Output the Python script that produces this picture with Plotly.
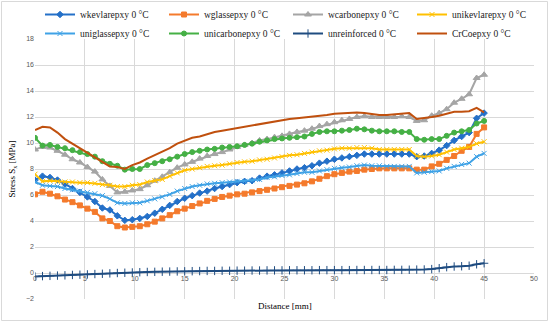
import plotly.graph_objects as go

distance = [0, 0.75, 1.5, 2.25, 3, 3.75, 4.5, 5.25, 6, 6.75, 7.5, 8.25, 9, 9.75, 10.5, 11.25,
            12, 12.75, 13.5, 14.25, 15, 15.75, 16.5, 17.25, 18, 18.75, 19.5, 20.25, 21, 21.75,
            22.5, 23.25, 24, 24.75, 25.5, 26.25, 27, 27.75, 28.5, 29.25, 30, 30.75, 31.5, 32.25,
            33, 33.75, 34.5, 35.25, 36, 36.75, 37.5, 38.25, 39, 39.75, 40.5, 41.25, 42, 42.75,
            43.5, 44.25, 45]

wkevlarepxy = [7.15, 7.45, 7.35, 7.15, 6.85, 6.5, 6.2, 5.85, 5.5, 5.0, 4.85, 4.4, 4.05, 4.1, 4.2, 4.35,
               4.6, 4.9, 5.2, 5.5, 5.75, 5.95, 6.15, 6.3, 6.5, 6.65, 6.8, 6.95, 7.05, 7.1,
               7.3, 7.45, 7.55, 7.7, 7.85, 8.0, 8.1, 8.25, 8.45, 8.6, 8.75, 8.85, 8.95, 9.05,
               9.15, 9.15, 9.15, 9.15, 9.15, 9.15, 9.15, 8.95, 9.0, 9.2, 9.45, 9.8, 10.2, 10.5,
               10.8, 11.9, 12.3]

wglassepxy = [6.05, 6.25, 6.1, 5.9, 5.65, 5.45, 5.2, 4.95, 4.7, 4.2, 4.0, 3.6, 3.5, 3.55, 3.6, 3.75,
              3.95, 4.2, 4.45, 4.75, 4.95, 5.15, 5.35, 5.55, 5.7, 5.85, 5.95, 6.05, 6.1, 6.2,
              6.3, 6.4, 6.5, 6.6, 6.7, 6.8, 6.9, 7.05, 7.25, 7.45, 7.6, 7.7, 7.8, 7.85,
              7.95, 8.0, 8.05, 8.05, 8.05, 8.05, 8.05, 7.95, 7.95, 8.2, 8.4, 8.7, 9.0, 9.4,
              9.7, 10.7, 11.2]

wcarbonepxy = [9.5, 9.7, 9.65, 9.4, 9.1, 8.75, 8.5, 8.15, 7.8, 7.2, 6.7, 6.2, 6.25, 6.35, 6.45, 6.75,
               7.1, 7.4, 7.75, 8.1, 8.35, 8.55, 8.8, 9.0, 9.15, 9.3, 9.5, 9.7, 9.85, 10.0,
               10.2, 10.3, 10.45, 10.55, 10.7, 10.85, 10.95, 11.1, 11.3, 11.45, 11.6, 11.75, 11.85, 12.0,
               12.05, 12.0, 12.0, 12.0, 12.0, 12.05, 12.0, 11.7, 11.75, 12.1, 12.3, 12.6, 13.1, 13.4,
               13.75, 15.0, 15.25]

unikevlarepxy = [7.6, 7.05, 7.1, 7.05, 7.0, 7.0, 6.95, 6.95, 6.9, 6.8, 6.75, 6.65, 6.65, 6.75, 6.8, 7.0,
                 7.1, 7.2, 7.45, 7.7, 7.9, 8.0, 8.1, 8.2, 8.25, 8.3, 8.4, 8.5, 8.55, 8.6,
                 8.7, 8.75, 8.85, 8.95, 9.05, 9.1, 9.2, 9.3, 9.4, 9.45, 9.55, 9.6, 9.6, 9.65,
                 9.65, 9.6, 9.5, 9.5, 9.5, 9.5, 9.5, 9.0, 8.95, 9.0, 9.1, 9.3, 9.5, 9.6,
                 9.7, 9.95, 10.1]

uniglassepxy = [7.0, 6.75, 6.7, 6.65, 6.5, 6.4, 6.3, 6.2, 6.1, 5.95, 5.7, 5.4, 5.35, 5.4, 5.4, 5.55,
                5.7, 5.85, 6.05, 6.3, 6.5, 6.65, 6.75, 6.85, 6.9, 6.95, 7.0, 7.05, 7.05, 7.1,
                7.2, 7.35, 7.4, 7.5, 7.55, 7.65, 7.75, 7.75, 7.85, 7.95, 8.05, 8.1, 8.15, 8.25,
                8.3, 8.25, 8.25, 8.2, 8.2, 8.2, 8.2, 7.7, 7.75, 7.8, 7.85, 8.05, 8.2, 8.35,
                8.45, 8.95, 9.2]

unicarbonepxy = [10.4, 9.8, 9.85, 9.7, 9.6, 9.45, 9.3, 9.15, 8.95, 8.6, 8.4, 8.25, 7.95, 8.0, 8.0, 8.3,
                 8.45, 8.6, 8.75, 8.95, 9.15, 9.3, 9.4, 9.5, 9.55, 9.65, 9.7, 9.75, 9.85, 9.95,
                 10.1, 10.2, 10.3, 10.35, 10.4, 10.45, 10.5, 10.7, 10.85, 10.9, 10.9, 10.95, 11.0, 11.1,
                 11.05, 10.95, 10.9, 10.9, 10.9, 10.85, 10.85, 10.3, 10.25, 10.3, 10.3, 10.55, 10.8, 10.9,
                 11.0, 11.5, 11.7]

unreinforced = [-0.27, -0.24, -0.22, -0.2, -0.18, -0.15, -0.13, -0.11, -0.08, -0.06, -0.03, 0.0, 0.02, 0.04, 0.06, 0.08,
                0.09, 0.1, 0.11, 0.12, 0.13, 0.14, 0.15, 0.16, 0.16, 0.17, 0.17, 0.18, 0.18, 0.19,
                0.19, 0.2, 0.2, 0.2, 0.21, 0.21, 0.21, 0.21, 0.22, 0.22, 0.22, 0.22, 0.22, 0.23,
                0.23, 0.23, 0.23, 0.23, 0.24, 0.24, 0.25, 0.26, 0.27, 0.3, 0.37, 0.45, 0.5, 0.52,
                0.56, 0.67, 0.75]

CrCoepxy = [11.0, 11.25, 11.2, 10.8, 10.3, 9.95, 9.6, 9.2, 8.9, 8.5, 8.2, 8.15, 8.0, 8.3, 8.5, 8.8,
            9.05, 9.3, 9.6, 9.95, 10.2, 10.4, 10.5, 10.7, 10.85, 10.95, 11.05, 11.2, 11.3, 11.35,
            11.5, 11.6, 11.7, 11.8, 11.85, 11.9, 11.95, 12.0, 12.05, 12.15, 12.25, 12.3, 12.3, 12.35,
            12.3, 12.2, 12.15, 12.15, 12.2, 12.25, 12.3, 11.85, 11.9, 12.0, 12.1, 12.25, 12.4, 12.4,
            12.45, 12.7, 12.35]

series_names = ["wkevlarepxy 0 °C", "wglassepxy 0 °C", "wcarbonepxy 0 °C", "unikevlarepxy 0 °C",
                "uniglassepxy 0 °C", "unicarbonepxy 0 °C", "unreinforced 0 °C", "CrCoepxy 0 °C"]
series_values = [wkevlarepxy, wglassepxy, wcarbonepxy, unikevlarepxy,
                 uniglassepxy, unicarbonepxy, unreinforced, CrCoepxy]
series_colors = ["#2470C8", "#F47A2C", "#A5A5A5", "#FFC000",
                 "#3FA2E6", "#45B045", "#1F4C80", "#C0500E"]
series_symbols = ["diamond", "square", "triangle-up", "x-thin",
                  "x-thin", "circle", "cross-thin", None]
series_msizes = [5, 5, 6, 5, 5, 5, 6, 0]

x_ticks = [0, 5, 10, 15, 20, 25, 30, 35, 40, 45, 50]
y_ticks = [-2, 0, 2, 4, 6, 8, 10, 12, 14, 16, 18]

fig = go.Figure()
for name, vals, col, sym, ms in zip(series_names, series_values, series_colors,
                                    series_symbols, series_msizes):
    if sym is None:
        fig.add_trace(go.Scatter(x=distance, y=vals, name=name, mode="lines",
                                 line=dict(color=col, width=2)))
    else:
        fig.add_trace(go.Scatter(x=distance, y=vals, name=name, mode="lines+markers",
                                 line=dict(color=col, width=2),
                                 marker=dict(symbol=sym, size=ms, color=col,
                                             line=dict(color=col, width=1))))

W, H = 550, 322
L, R, T, B = 35, 16, 39, 23
pw, ph = W - L - R, H - T - B

fig.update_layout(
    width=W, height=H,
    margin=dict(l=L, r=R, t=T, b=B, pad=0, autoexpand=False),
    paper_bgcolor="white", plot_bgcolor="white",
    showlegend=True,
    legend=dict(orientation="h", xref="container", yref="container",
                x=40 / W, y=1.0, xanchor="left", yanchor="top",
                entrywidth=79, entrywidthmode="pixels",
                font=dict(family="Liberation Serif", size=9.5, color="#222222"),
                itemwidth=30, tracegroupgap=0, bgcolor="rgba(0,0,0,0)"),
    xaxis=dict(range=[0, 50], tickvals=x_ticks, showgrid=True, gridcolor="#D9D9D9",
               gridwidth=1, zeroline=False, showline=False, ticks="",
               anchor="free", position=0.1,
               tickfont=dict(family="Liberation Sans", size=7, color="#595959")),
    yaxis=dict(range=[-2, 18], tickvals=y_ticks, showgrid=True, gridcolor="#D9D9D9",
               gridwidth=1, zeroline=False, showline=False, ticks="",
               tickfont=dict(family="Liberation Sans", size=7, color="#595959"),
               title=dict(text="Stress S<sub>x</sub> [MPa]", standoff=8,
                          font=dict(family="Liberation Serif", size=9, color="#000000"))),
    annotations=[dict(text="Distance [mm]", xref="paper", yref="paper",
                      x=(285 - L) / pw, y=(H - B - 306) / ph, xanchor="center", yanchor="middle",
                      showarrow=False,
                      font=dict(family="Liberation Serif", size=9, color="#000000"))],
    shapes=[dict(type="rect", xref="paper", yref="paper",
                 x0=(1.5 - L) / pw, x1=(W - 2.5 - L) / pw,
                 y0=(H - B - (H - 1.5)) / ph, y1=(H - B - 1.5) / ph,
                 line=dict(color="#D9D9D9", width=1), layer="below")],
)

fig.write_html("out.html", config={"displayModeBar": False},
               post_script="document.body.style.margin='0';")
